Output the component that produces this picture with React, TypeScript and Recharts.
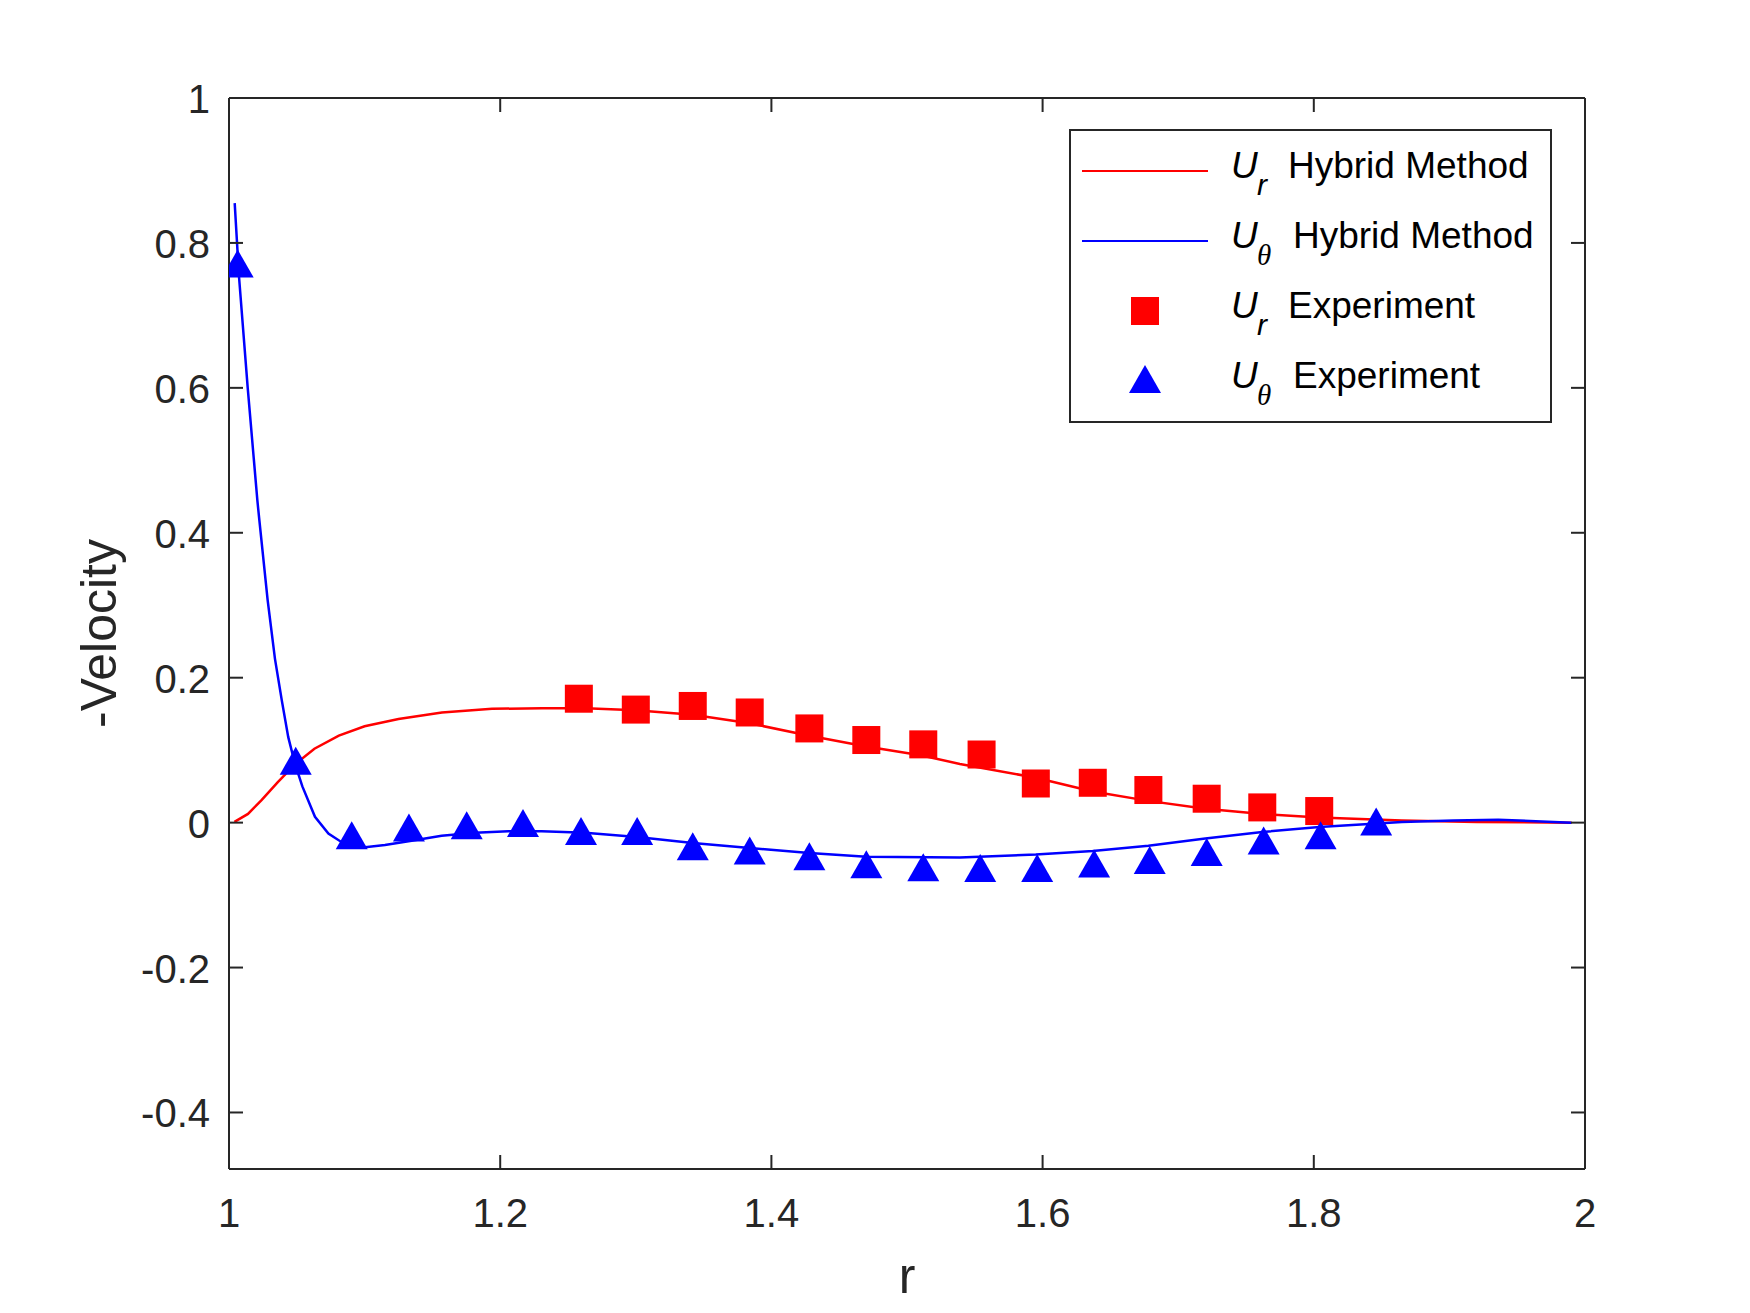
import React from "react";
import { ComposedChart, Line, Scatter, XAxis, YAxis, Label } from "recharts";

// r values and -velocity
const urHybrid = [
  { r: 1.004, u: 0.001 }, { r: 1.014, u: 0.012 }, { r: 1.024, u: 0.031 },
  { r: 1.036, u: 0.056 }, { r: 1.049, u: 0.081 }, { r: 1.063, u: 0.102 },
  { r: 1.081, u: 0.12 }, { r: 1.1, u: 0.133 }, { r: 1.125, u: 0.143 },
  { r: 1.157, u: 0.152 }, { r: 1.194, u: 0.157 }, { r: 1.231, u: 0.158 },
  { r: 1.263, u: 0.158 }, { r: 1.3, u: 0.155 }, { r: 1.342, u: 0.149 },
  { r: 1.384, u: 0.137 }, { r: 1.428, u: 0.12 }, { r: 1.47, u: 0.105 },
  { r: 1.51, u: 0.093 }, { r: 1.539, u: 0.081 }, { r: 1.595, u: 0.062 },
  { r: 1.637, u: 0.043 }, { r: 1.678, u: 0.03 }, { r: 1.72, u: 0.019 },
  { r: 1.762, u: 0.012 }, { r: 1.804, u: 0.007 }, { r: 1.865, u: 0.003 },
  { r: 1.92, u: 0.001 }, { r: 1.99, u: 0.0 },
];

const uthHybrid = [
  { r: 1.0042, u: 0.855 }, { r: 1.0074, u: 0.753 }, { r: 1.0138, u: 0.6 },
  { r: 1.0209, u: 0.445 }, { r: 1.0224, u: 0.417 }, { r: 1.0285, u: 0.307 },
  { r: 1.0339, u: 0.226 }, { r: 1.0389, u: 0.169 }, { r: 1.0437, u: 0.118 },
  { r: 1.0487, u: 0.081 }, { r: 1.0541, u: 0.05 }, { r: 1.0634, u: 0.008 },
  { r: 1.0733, u: -0.015 }, { r: 1.0831, u: -0.027 }, { r: 1.1003, u: -0.034 },
  { r: 1.115, u: -0.031 }, { r: 1.1347, u: -0.025 }, { r: 1.1568, u: -0.018 },
  { r: 1.1814, u: -0.014 }, { r: 1.206, u: -0.012 }, { r: 1.2306, u: -0.012 },
  { r: 1.2625, u: -0.014 }, { r: 1.301, u: -0.02 }, { r: 1.342, u: -0.028 },
  { r: 1.384, u: -0.035 }, { r: 1.428, u: -0.042 }, { r: 1.47, u: -0.047 },
  { r: 1.539, u: -0.048 }, { r: 1.595, u: -0.044 }, { r: 1.637, u: -0.039 },
  { r: 1.678, u: -0.032 }, { r: 1.72, u: -0.022 }, { r: 1.762, u: -0.013 },
  { r: 1.804, u: -0.006 }, { r: 1.865, u: 0.001 }, { r: 1.903, u: 0.003 },
  { r: 1.936, u: 0.004 }, { r: 1.99, u: 0.0 },
];

const urExperiment = [
  { r: 1.258, u: 0.171 }, { r: 1.3, u: 0.156 }, { r: 1.342, u: 0.161 },
  { r: 1.384, u: 0.152 }, { r: 1.428, u: 0.13 }, { r: 1.47, u: 0.114 },
  { r: 1.512, u: 0.108 }, { r: 1.555, u: 0.094 }, { r: 1.595, u: 0.054 },
  { r: 1.637, u: 0.055 }, { r: 1.678, u: 0.045 }, { r: 1.721, u: 0.033 },
  { r: 1.762, u: 0.021 }, { r: 1.804, u: 0.016 },
];

const uthExperiment = [
  { r: 1.0064, u: 0.765 }, { r: 1.0492, u: 0.079 }, { r: 1.0905, u: -0.024 },
  { r: 1.1327, u: -0.013 }, { r: 1.1753, u: -0.01 }, { r: 1.2168, u: -0.007 },
  { r: 1.2596, u: -0.018 }, { r: 1.301, u: -0.018 }, { r: 1.342, u: -0.039 },
  { r: 1.384, u: -0.045 }, { r: 1.428, u: -0.053 }, { r: 1.47, u: -0.064 },
  { r: 1.512, u: -0.068 }, { r: 1.554, u: -0.069 }, { r: 1.596, u: -0.069 },
  { r: 1.638, u: -0.063 }, { r: 1.679, u: -0.058 }, { r: 1.721, u: -0.047 },
  { r: 1.763, u: -0.031 }, { r: 1.805, u: -0.024 }, { r: 1.846, u: -0.005 },
];

const xTicks = [1, 1.2, 1.4, 1.6, 1.8, 2];
const yTicks = [-0.4, -0.2, 0, 0.2, 0.4, 0.6, 0.8, 1];
const xDomain = [1, 2];
const yDomain = [-0.478, 1];

const legendRows = [
  { kind: "line", color: "#ff0000", sub: "r", text: "Hybrid Method" },
  { kind: "line", color: "#0000ff", sub: "θ", text: "Hybrid Method" },
  { kind: "square", color: "#ff0000", sub: "r", text: "Experiment" },
  { kind: "triangle", color: "#0000ff", sub: "θ", text: "Experiment" },
];

const FONT = '"Liberation Sans", Arial, Helvetica, sans-serif';
const AXIS = "#262626";
const TICK_LEN = 14;

const squareShape = (props: any) => {
  const { cx, cy } = props;
  return <rect x={cx - 14} y={cy - 14} width={28} height={28} fill="#ff0000" />;
};

const triangleShape = (props: any) => {
  const { cx, cy } = props;
  const h = 28;
  const w = 16;
  return (
    <polygon
      points={`${cx},${cy - (2 * h) / 3} ${cx + w},${cy + h / 3} ${cx - w},${cy + h / 3}`}
      fill="#0000ff"
    />
  );
};

const BottomTick = (props: any) => {
  const { x, y, payload } = props;
  return (
    <g>
      <line x1={x} y1={y} x2={x} y2={y - TICK_LEN} stroke={AXIS} strokeWidth={2} />
      <text x={x} y={y + 58} textAnchor="middle" fill={AXIS} fontSize={40} fontFamily={FONT}>
        {String(payload.value)}
      </text>
    </g>
  );
};

const TopTick = (props: any) => {
  const { x, y } = props;
  return <line x1={x} y1={y} x2={x} y2={y + TICK_LEN} stroke={AXIS} strokeWidth={2} />;
};

const LeftTick = (props: any) => {
  const { x, y, payload } = props;
  return (
    <g>
      <line x1={x} y1={y} x2={x + TICK_LEN} y2={y} stroke={AXIS} strokeWidth={2} />
      <text x={x - 19} y={y + 15} textAnchor="end" fill={AXIS} fontSize={40} fontFamily={FONT}>
        {String(payload.value)}
      </text>
    </g>
  );
};

const RightTick = (props: any) => {
  const { x, y } = props;
  return <line x1={x} y1={y} x2={x - TICK_LEN} y2={y} stroke={AXIS} strokeWidth={2} />;
};

const XLabel = (props: any) => {
  const vb = props.viewBox;
  return (
    <text x={vb.x + vb.width / 2} y={vb.y + 124} textAnchor="middle" fill={AXIS} fontSize={50} fontFamily={FONT}>
      r
    </text>
  );
};

const YLabel = (props: any) => {
  const vb = props.viewBox;
  const cy = vb.y + vb.height / 2;
  return (
    <text
      x={116}
      y={cy}
      transform={`rotate(-90, 116, ${cy})`}
      textAnchor="middle"
      fill={AXIS}
      fontSize={50}
      fontFamily={FONT}
    >
      -Velocity
    </text>
  );
};

function LegendBox() {
  return (
    <svg width={484} height={295} style={{ position: "absolute", left: 1069, top: 129 }}>
      <rect x={1} y={1} width={481} height={292} fill="#ffffff" stroke={AXIS} strokeWidth={2} />
      {legendRows.map((row, i) => {
        const base = 49 + i * 70;
        const mid = base - 7;
        const isTheta = row.sub === "θ";
        return (
          <g key={i}>
            {row.kind === "line" && (
              <line x1={13} x2={139} y1={mid} y2={mid} stroke={row.color} strokeWidth={2} />
            )}
            {row.kind === "square" && <rect x={62} y={mid - 14} width={28} height={28} fill={row.color} />}
            {row.kind === "triangle" && (
              <polygon
                points={`76,${mid - 16} 92,${mid + 12} 60,${mid + 12}`}
                fill={row.color}
              />
            )}
            <text x={162} y={base} fontSize={37} fontStyle="italic" fontFamily={FONT} fill="#000">
              U
            </text>
            <text
              x={188}
              y={base + 17}
              fontSize={isTheta ? 29 : 30}
              fontStyle="italic"
              fontFamily={isTheta ? '"Liberation Serif", "DejaVu Serif", serif' : FONT}
              fill="#000"
            >
              {row.sub}
            </text>
            <text x={isTheta ? 224 : 219} y={base} fontSize={37} fontFamily={FONT} fill="#000">
              {row.text}
            </text>
          </g>
        );
      })}
    </svg>
  );
}

export default function App() {
  return (
    <div style={{ position: "absolute", left: 0, top: 0, width: 1750, height: 1313, background: "#fff" }}>
      <ComposedChart width={1750} height={1313} margin={{ top: 97, right: 164, bottom: 0, left: 0 }}>
        <XAxis
          dataKey="r"
          type="number"
          domain={xDomain}
          ticks={xTicks}
          allowDataOverflow
          interval={0}
          height={144}
          tickSize={0}
          tickMargin={0}
          tickLine={false}
          axisLine={{ stroke: AXIS, strokeWidth: 2 }}
          tick={<BottomTick />}
        >
          <Label content={<XLabel />} />
        </XAxis>
        <XAxis
          xAxisId="top"
          orientation="top"
          dataKey="r"
          type="number"
          domain={xDomain}
          ticks={xTicks}
          allowDataOverflow
          interval={0}
          height={1}
          tickSize={0}
          tickMargin={0}
          tickLine={false}
          axisLine={{ stroke: AXIS, strokeWidth: 2 }}
          tick={<TopTick />}
        />
        <YAxis
          dataKey="u"
          type="number"
          domain={yDomain}
          ticks={yTicks}
          allowDataOverflow
          interval={0}
          width={229}
          tickSize={0}
          tickMargin={0}
          tickLine={false}
          axisLine={{ stroke: AXIS, strokeWidth: 2 }}
          tick={<LeftTick />}
        >
          <Label content={<YLabel />} />
        </YAxis>
        <YAxis
          yAxisId="right"
          orientation="right"
          dataKey="u"
          type="number"
          domain={yDomain}
          ticks={yTicks}
          allowDataOverflow
          interval={0}
          width={1}
          tickSize={0}
          tickMargin={0}
          tickLine={false}
          axisLine={{ stroke: AXIS, strokeWidth: 2 }}
          tick={<RightTick />}
        />
        <Line
          data={urHybrid}
          dataKey="u"
          type="linear"
          stroke="#ff0000"
          strokeWidth={2.5}
          dot={false}
          activeDot={false}
          isAnimationActive={false}
        />
        <Line
          data={uthHybrid}
          dataKey="u"
          type="linear"
          stroke="#0000ff"
          strokeWidth={2.5}
          dot={false}
          activeDot={false}
          isAnimationActive={false}
        />
        <Scatter data={urExperiment} dataKey="u" shape={squareShape} isAnimationActive={false} />
        <Scatter data={uthExperiment} dataKey="u" shape={triangleShape} isAnimationActive={false} />
      </ComposedChart>
      <LegendBox />
    </div>
  );
}
